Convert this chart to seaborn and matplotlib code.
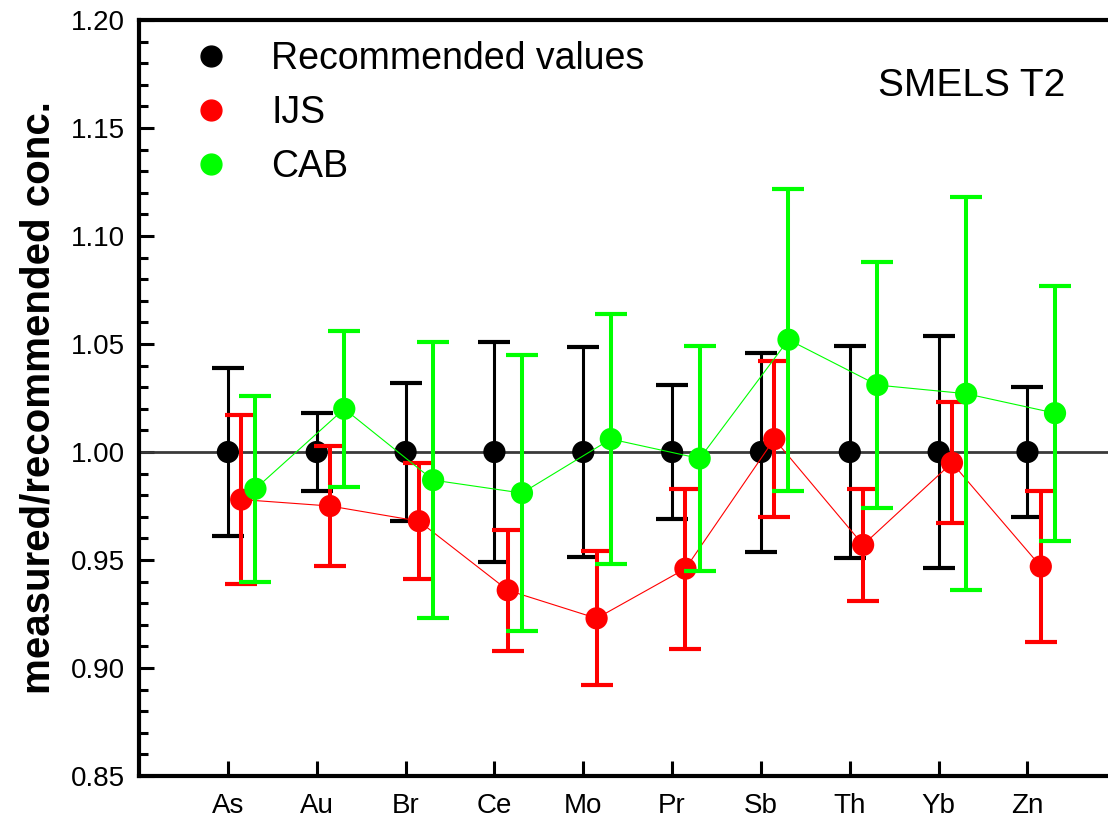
import pandas as pd
import matplotlib
matplotlib.use('Agg')
from matplotlib import pyplot as plt
from matplotlib.lines import Line2D
from matplotlib.ticker import MultipleLocator, FormatStrFormatter
import seaborn as sns

sns.set_style('white')
plt.rcParams['font.family'] = ['Liberation Sans', 'DejaVu Sans']
plt.rcParams['text.color'] = 'black'
plt.rcParams['axes.labelcolor'] = 'black'
plt.rcParams['xtick.color'] = 'black'
plt.rcParams['ytick.color'] = 'black'

# values
elements = ['As', 'Au', 'Br', 'Ce', 'Mo', 'Pr', 'Sb', 'Th', 'Yb', 'Zn']

rec_val = [1.000, 1.000, 1.000, 1.000, 1.000, 1.000, 1.000, 1.000, 1.000, 1.000]
rec_hi = [1.039, 1.018, 1.032, 1.051, 1.0485, 1.031, 1.046, 1.049, 1.0535, 1.030]
rec_lo = [0.961, 0.982, 0.968, 0.949, 0.9515, 0.969, 0.9535, 0.951, 0.9465, 0.970]

ijs_val = [0.978, 0.975, 0.968, 0.936, 0.923, 0.946, 1.006, 0.957, 0.995, 0.947]
ijs_hi = [1.017, 1.003, 0.995, 0.964, 0.954, 0.983, 1.042, 0.983, 1.023, 0.982]
ijs_lo = [0.939, 0.947, 0.941, 0.908, 0.892, 0.909, 0.970, 0.931, 0.967, 0.912]

cab_val = [0.983, 1.020, 0.987, 0.981, 1.006, 0.997, 1.052, 1.031, 1.027, 1.018]
cab_hi = [1.026, 1.056, 1.051, 1.045, 1.064, 1.049, 1.122, 1.088, 1.118, 1.077]
cab_lo = [0.940, 0.984, 0.923, 0.917, 0.948, 0.945, 0.982, 0.974, 0.936, 0.959]

sources = ['Recommended values', 'IJS', 'CAB']
colors = ['black', '#ff0000', '#00ff00']
offsets = [0.0, 0.15, 0.31]
widths = [2.2, 2.9, 2.9]

frames = []
for name, val, lo, hi, off in zip(sources, [rec_val, ijs_val, cab_val],
                                  [rec_lo, ijs_lo, cab_lo], [rec_hi, ijs_hi, cab_hi],
                                  offsets):
    frames.append(pd.DataFrame({
        'element': elements,
        'x': [i + 1 + off for i in range(len(elements))],
        'value': val, 'lo': lo, 'hi': hi, 'source': name,
    }))
df = pd.concat(frames, ignore_index=True)

fig = plt.figure(figsize=(11.08, 8.21), dpi=100)
ax = fig.add_axes([0.1255, 0.0548, 0.882, 0.9208])

ax.axhline(1.0, color='#3a3a3a', lw=2, zorder=1)

z = 2
for name, c, w in zip(sources, colors, widths):
    sub = df[df.source == name]
    ax.errorbar(sub.x, sub.value, yerr=[sub.value - sub.lo, sub.hi - sub.value],
                fmt='none', ecolor=c, elinewidth=w, capsize=11.5, capthick=3,
                zorder=z)
    if name != 'Recommended values':
        sns.lineplot(data=sub, x='x', y='value', color=c, lw=0.8, ax=ax,
                     zorder=z + 0.5)
    sns.scatterplot(data=sub, x='x', y='value', color=c, s=256, edgecolor='none',
                    linewidth=0, ax=ax, zorder=z + 1, legend=False)
    z += 2

ax.set_xlim(0, 11)
ax.set_ylim(0.85, 1.20)
ax.set_xticks(range(1, len(elements) + 1))
ax.set_xticklabels(elements, fontsize=20,
                   family=['Liberation Sans Narrow', 'Liberation Sans'])
ax.yaxis.set_major_locator(MultipleLocator(0.05))
ax.yaxis.set_minor_locator(MultipleLocator(0.01))
ax.yaxis.set_major_formatter(FormatStrFormatter('%.2f'))
ax.tick_params(axis='y', which='major', direction='in', length=11, width=2.2,
               labelsize=20, pad=10, left=True)
ax.tick_params(axis='y', which='minor', direction='in', length=6.5, width=2.2,
               left=True)
ax.tick_params(axis='x', direction='in', length=11, width=2.2, pad=12,
               bottom=True)
ax.set_xlabel('')
ax.set_ylabel('measured/recommended conc.', fontsize=29, fontweight='bold',
              labelpad=10)

for s in ['left', 'bottom', 'top']:
    ax.spines[s].set_linewidth(3)
    ax.spines[s].set_color('black')
ax.spines['right'].set_visible(False)

handles = [Line2D([], [], marker='o', ls='none', color=c, markersize=15)
           for c in colors]
ax.legend(handles, sources, loc='upper left', bbox_to_anchor=(0.02, 1.017),
          frameon=False, fontsize=27, handlelength=1.0, handletextpad=1.1,
          labelspacing=0.48)

ax.text(0.756, 0.9127, 'SMELS T2', transform=ax.transAxes, fontsize=28,
        ha='left', va='center')

fig.savefig('out.png', dpi=100)
